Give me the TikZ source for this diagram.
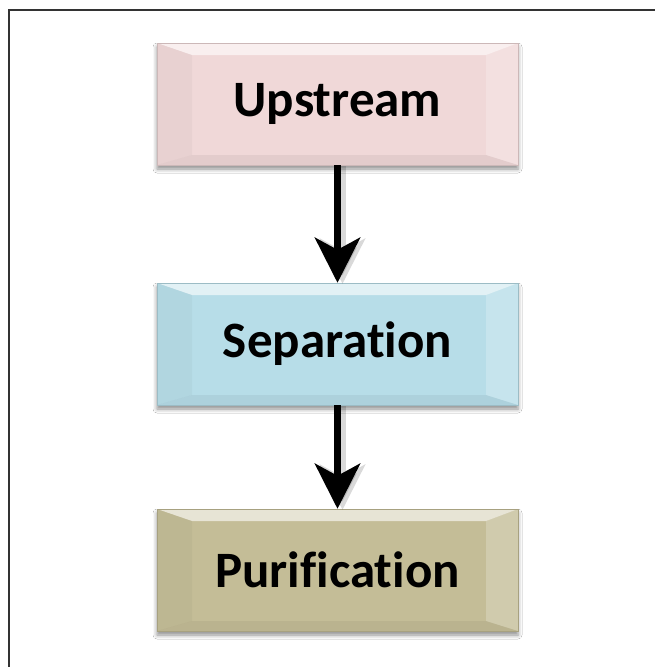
\documentclass[tikz,border=0pt]{standalone}
\usepackage{fontspec}
\setmainfont{Carlito}[Ligatures={NoCommon}]
\usetikzlibrary{arrows.meta,shadows.blur}
\definecolor{upc}{HTML}{F0D8D8}
\definecolor{sepc}{HTML}{B7DDE8}
\definecolor{purc}{HTML}{C4BD97}
\definecolor{framec}{HTML}{333333}
\tikzset{
  bevelbox/.style={
    minimum width=361pt, minimum height=122pt, inner sep=0pt,
    fill=#1, draw=#1!85!black, line width=0.4pt,
    font=\fontsize{51}{60}\selectfont\bfseries,
    blur shadow={shadow xshift=0pt, shadow yshift=-4pt, shadow blur radius=4pt, shadow opacity=45},
    path picture={
      \def\bb{path picture bounding box}
      % top bevel
      \fill[white,opacity=0.6] (\bb.north west) -- (\bb.north east) -- ([xshift=-32pt,yshift=-12pt]\bb.north east) -- ([xshift=35pt,yshift=-12pt]\bb.north west) -- cycle;
      % right bevel
      \fill[white,opacity=0.22] (\bb.north east) -- (\bb.south east) -- ([xshift=-32pt,yshift=10pt]\bb.south east) -- ([xshift=-32pt,yshift=-12pt]\bb.north east) -- cycle;
      % left bevel
      \fill[black,opacity=0.03] (\bb.north west) -- (\bb.south west) -- ([xshift=35pt,yshift=10pt]\bb.south west) -- ([xshift=35pt,yshift=-12pt]\bb.north west) -- cycle;
      % bottom bevel
      \fill[black,opacity=0.05] (\bb.south west) -- (\bb.south east) -- ([xshift=-32pt,yshift=10pt]\bb.south east) -- ([xshift=35pt,yshift=10pt]\bb.south west) -- cycle;
    }
  },
  flowarrow/.style={line width=7.5pt, -{Stealth[length=45pt,width=45pt,inset=12pt]}},
  arrowshadow/.style={line width=7.5pt, draw=black, opacity=0.15, -{Stealth[length=45pt,width=45pt,inset=12pt]}},
  framestyle/.style={draw=framec, line width=1.6pt}
}
\begin{document}
\begin{tikzpicture}[x=1pt,y=-1pt]
  \useasboundingbox (0,0) rectangle (655,667);
  \fill[white] (0,0) rectangle (655,667);
  \coordinate (ftl) at (9,10);
  \coordinate (ftr) at (655,10);
  \coordinate (fbl) at (9,667);
  \draw[framestyle] (fbl) -- (ftl) -- (ftr);

  \node[bevelbox=upc] (up) at (337.5,104) {Upstream};
  \node[bevelbox=sepc] (sep) at (337.5,344) {Separation};
  \node[bevelbox=purc] (pur) at (337.5,570) {Purification};

  \draw[arrowshadow] ([xshift=5pt,yshift=-1pt]up.south) -- ([xshift=5pt,yshift=-1pt]sep.north);
  \draw[arrowshadow] ([xshift=5pt,yshift=-1pt]sep.south) -- ([xshift=5pt,yshift=-1pt]pur.north);
  \draw[flowarrow] (up.south) -- (sep.north);
  \draw[flowarrow] (sep.south) -- (pur.north);
\end{tikzpicture}
\end{document}
